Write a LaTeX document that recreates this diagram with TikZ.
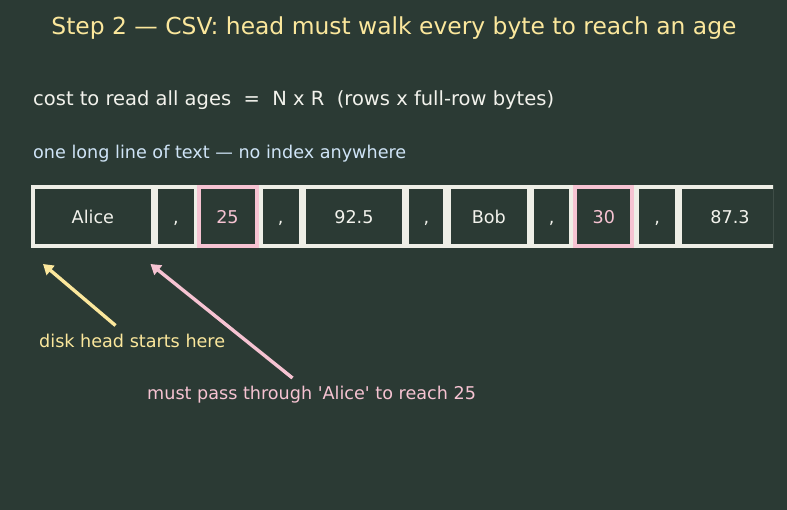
\documentclass[tikz,border=0pt]{standalone}
\usepackage{fontspec}
\setmainfont{DejaVu Sans}
\usetikzlibrary{arrows.meta}
\definecolor{bg}{HTML}{2B3A34}
\definecolor{lite}{HTML}{EEEEE6}
\definecolor{ttl}{HTML}{FBE79C}
\definecolor{wht}{HTML}{F2F2EC}
\definecolor{blu}{HTML}{CFE4F7}
\definecolor{pnk}{HTML}{F6C3D2}
\begin{document}
\begin{tikzpicture}[x=1pt,y=-1pt,
  cell/.style={fill=bg,draw=none,inner sep=0pt,minimum height=55.3pt,text height=15pt,text depth=0.4pt,text=wht,font=\fontsize{17.6}{21}\selectfont},
  hot/.style={fill=bg,draw=pnk,line width=4pt,inner sep=0pt,minimum height=59pt,text height=15pt,text depth=0.4pt,text=pnk,font=\fontsize{17.6}{21}\selectfont},
  lbl/.style={anchor=west,inner sep=0pt,font=\fontsize{17.6}{21}\selectfont},
  arr/.style={line width=3.4pt,-{Triangle[length=10pt,width=12pt]}}]
\useasboundingbox[fill=bg] (0,0) rectangle (787,510);
\node[text=ttl,font=\fontsize{23.4}{28}\selectfont] (title) at (394,28) {Step 2 — CSV: head must walk every byte to reach an age};
\node[anchor=west,inner sep=0pt,text=wht,font=\fontsize{19.5}{23}\selectfont] (cost) at (33,100.5) {cost to read all ages\ \ =\ \ N x R\ \ (rows x full-row bytes)};
\node[lbl,text=blu] (line) at (33,153.5) {one long line of text — no index anywhere};
\begin{scope}
\clip (0,180) rectangle (773,252);
\node[fill=lite,inner sep=0pt,minimum width=760pt,minimum height=63pt] (strip) at (411,216.5) {};
\node[cell,minimum width=115.7pt] (alice) at (92.9,216.7) {Alice};
\node[cell,minimum width=36pt] (c1) at (176,216.7) {,};
\node[hot,minimum width=58pt] (a25) at (227.5,216.5) {25};
\node[cell,minimum width=36pt] (c2) at (280.7,216.7) {,};
\node[cell,minimum width=95.7pt] (s925) at (353.9,216.7) {92.5};
\node[cell,minimum width=34pt] (c3) at (426.3,216.7) {,};
\node[cell,minimum width=75.7pt] (bob) at (488.9,216.7) {Bob};
\node[cell,minimum width=35.3pt] (c4) at (551.7,216.7) {,};
\node[hot,minimum width=57pt] (a30) at (603.8,216.5) {30};
\node[cell,minimum width=35.7pt] (c5) at (657.2,216.7) {,};
\node[cell,minimum width=96pt] (s873) at (730,216.7) {87.3};
\end{scope}
\node[lbl,text=ttl] (disk) at (39,340.5) {disk head starts here};
\node[lbl,text=pnk] (pass) at (147,394.5) {must pass through \textquotesingle Alice\textquotesingle\ to reach 25};
\coordinate (dtail) at (115.5,325.5);
\coordinate (dtip) at (43,264);
\coordinate (ptail) at (292.5,378);
\coordinate (ptip) at (150.5,264);
\draw[arr,ttl] (dtail) -- (dtip);
\draw[arr,pnk] (ptail) -- (ptip);
\end{tikzpicture}
\end{document}
